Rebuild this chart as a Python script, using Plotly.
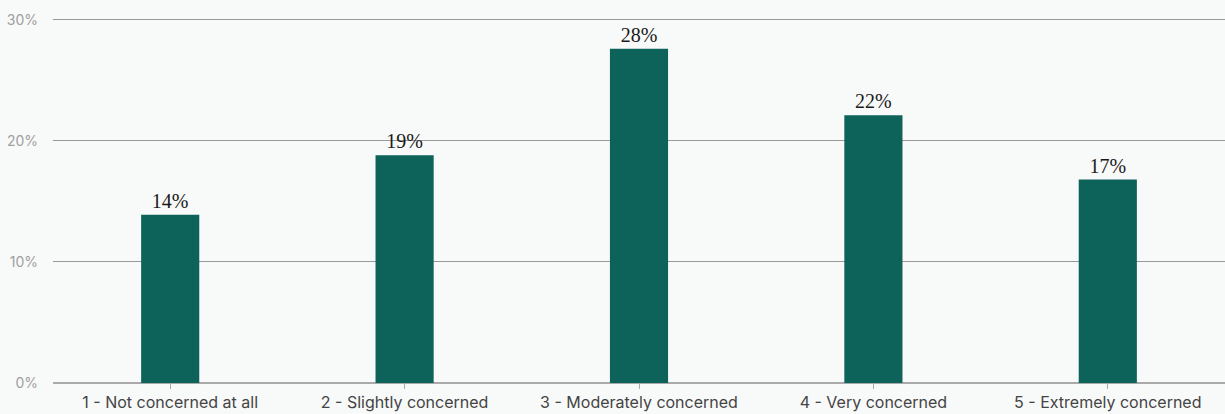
import plotly.graph_objects as go

categories = ["1 - Not concerned at all", "2 - Slightly concerned", "3 - Moderately concerned",
              "4 - Very concerned", "5 - Extremely concerned"]
values = [13.9, 18.8, 27.6, 22.1, 16.8]
labels = ["14%", "19%", "28%", "22%", "17%"]
y_ticks = [0, 10, 20, 30]
y_tick_text = ["0%", "10%", "20%", "30%"]

fig = go.Figure(go.Bar(
    x=categories, y=values, text=labels, textposition="outside",
    textfont=dict(family="Liberation Serif", size=20, color="#1a1a1a"),
    marker=dict(color="#0d6359", line=dict(width=0)),
    cliponaxis=False,
))
fig.update_layout(
    width=1225, height=414,
    margin=dict(l=53, r=0, t=16, b=31),
    paper_bgcolor="#f8f9f9", plot_bgcolor="#f8f9f9",
    bargap=0.752, showlegend=False,
    xaxis=dict(tickfont=dict(family="Inter", size=16, color="#444444"),
               ticks="outside", ticklen=5, tickcolor="#aaaaaa", showgrid=False,
               showline=False),
    yaxis=dict(range=[0, 30.3], tickvals=y_ticks, ticktext=y_tick_text,
               tickfont=dict(family="Inter", size=14, color="#a0a0a0"),
               gridcolor="#999999", gridwidth=1, zeroline=True, zerolinecolor="#aaaaaa",
               zerolinewidth=1.5, ticklabelstandoff=14),
)
fig.write_html("out.html")
